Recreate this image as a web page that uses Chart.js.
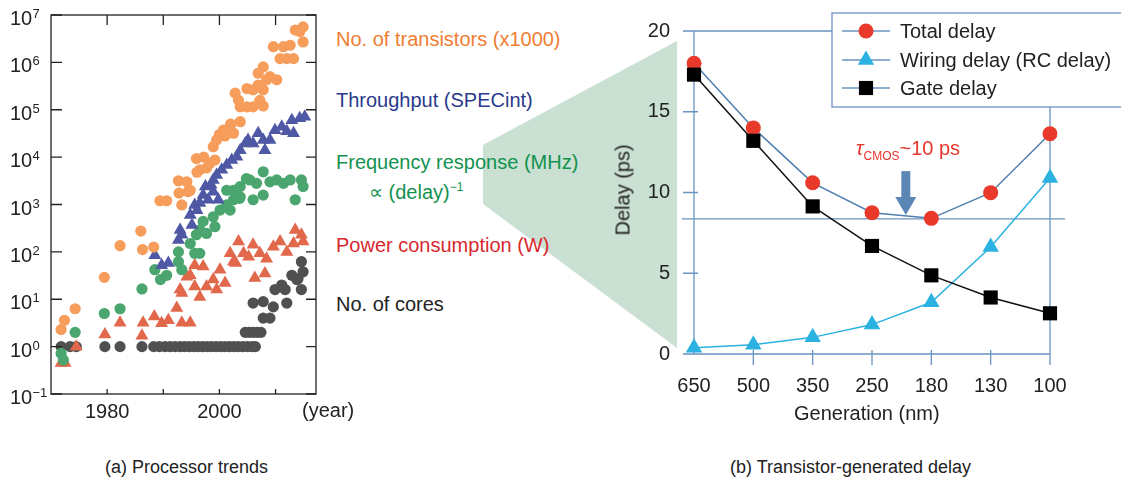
<!DOCTYPE html>
<html>
<head>
<meta charset="utf-8">
<script src="https://cdn.jsdelivr.net/npm/chart.js@4/dist/chart.umd.min.js"></script>
<style>
  body { margin: 0; background: #fff; width: 1121px; height: 484px; position: relative; overflow: hidden;
         font-family: "Liberation Sans", Arial, sans-serif; color: #222; }
  .t { position: absolute; white-space: nowrap; font-size: 20px; line-height: 20px; }
  .cap { position: absolute; white-space: nowrap; font-size: 18px; line-height: 18px; color: #222; }
  #wedge { position: absolute; left: 0; top: 0; width: 1121px; height: 484px; background: #cae0d2;
           clip-path: polygon(483px 145px, 677px 41px, 677px 348px, 483px 204px); }
  canvas { position: absolute; top: 0; }
  #trends { left: 0; }
  #delay { left: 600px; }
  .tau { color: #e8352b; }
  .tau sub { font-size: 12px; vertical-align: -5px; }
</style>
</head>
<body>
<div id="wedge"></div>
<canvas id="trends" width="330" height="430"></canvas>
<canvas id="delay" width="521" height="430"></canvas>

<div class="t" style="left:336px;top:29px;color:#f07d32">No. of transistors (x1000)</div>
<div class="t" style="left:336px;top:90px;color:#2a3a8c">Throughput (SPECint)</div>
<div class="t" style="left:336px;top:152px;color:#13924f">Frequency response (MHz)</div>
<div class="t" style="left:369px;top:177px;color:#13924f">&prop; (delay)<sup style="font-size:12px">&minus;1</sup></div>
<div class="t" style="left:336px;top:235px;color:#d8282f">Power consumption (W)</div>
<div class="t" style="left:336px;top:294px;color:#222">No. of cores</div>
<div class="t" style="left:302px;top:400px">(year)</div>

<div class="t tau" style="left:856px;top:138px"><i>&tau;</i><sub>CMOS</sub>~10 ps</div>
<div class="t" style="left:577px;top:180px;transform:rotate(-90deg);transform-origin:center;width:91px;text-align:center">Delay (ps)</div>
<div class="t" style="left:794px;top:403px">Generation (nm)</div>

<div class="cap" style="left:105px;top:458px">(a) Processor trends</div>
<div class="cap" style="left:730px;top:458px">(b) Transistor-generated delay</div>

<script>
'use strict';

// (a) processor trends, [year, value]
const transistors = [
  [1971.8, 2.3], [1972.4, 3.6], [1974.3, 6.3], [1979.5, 29], [1982.3, 135], [1986.0, 275], [1986.3, 112],
  [1988.3, 126], [1989.4, 1200], [1990.6, 1200], [1992.8, 1740], [1993.3, 980], [1994.4, 1860],
  [1992.7, 3160], [1994.2, 3020], [1994.8, 2000], [1996.0, 4800], [1996.5, 5400], [1995.9, 9300],
  [1997.2, 10000], [1997.7, 5900], [1998.3, 7400], [1999.2, 8700], [1998.9, 16600], [1999.5, 23000],
  [2000.0, 30000], [2000.7, 37000], [2001.0, 28000], [2001.9, 44000], [2002.0, 50000], [2002.5, 32000],
  [2003.7, 56000], [2002.8, 224000], [2003.4, 158000], [2003.7, 115000], [2004.9, 115000],
  [2006.0, 115000], [2007.8, 120000], [2004.9, 280000], [2006.0, 263000], [2006.9, 330000],
  [2007.8, 263000], [2007.2, 158000], [2006.9, 590000], [2007.8, 800000], [2009.0, 500000],
  [2010.2, 430000], [2008.4, 430000], [2009.6, 2140000], [2011.4, 2140000], [2012.6, 2300000],
  [2010.8, 1200000], [2012.0, 1200000], [2013.2, 1200000], [2013.5, 4800000], [2014.9, 5600000],
  [2014.9, 2700000], [2014.3, 4500000]
];
const throughput = [
  [1988.5, 85], [1989.7, 52], [1990.9, 58], [1992.7, 178], [1993.0, 290], [1993.3, 230], [1995.1, 370],
  [1994.8, 600], [1995.6, 980], [1996.0, 760], [1996.5, 1070], [1997.1, 1580], [1997.5, 2400],
  [1998.0, 1260], [1998.5, 2600], [1998.9, 1860], [1999.8, 1260], [1998.9, 3300], [1999.5, 4200],
  [2000.4, 5400], [2001.3, 6800], [2002.2, 8700], [2003.1, 10200], [2003.7, 14000], [2004.6, 19500],
  [2005.1, 23000], [2006.0, 19500], [2006.9, 32000], [2007.8, 23000], [2008.1, 14000], [2009.0, 23000],
  [2009.9, 37000], [2011.1, 44000], [2012.0, 35000], [2012.9, 60000], [2013.2, 32000], [2014.3, 66000],
  [2015.2, 71000]
];
const frequency = [
  [1971.8, 0.72], [1972.2, 0.52], [1974.3, 2.0], [1979.5, 5.0], [1982.3, 6.3], [1986.2, 16.5],
  [1988.5, 42], [1989.5, 26], [1990.6, 32], [1992.7, 62], [1993.3, 42], [1992.7, 100], [1994.8, 150],
  [1995.6, 93], [1996.5, 93], [1995.9, 230], [1996.5, 290], [1997.7, 245], [1997.1, 440], [1999.2, 340],
  [1998.9, 550], [2000.1, 760], [2001.3, 980], [2001.9, 760], [2002.5, 1260], [2003.7, 1450],
  [2006.0, 1260], [2007.8, 1580], [2013.5, 1260], [2003.6, 1350], [2002.5, 2000], [2001.3, 2000],
  [2003.7, 2400], [2004.8, 3500], [2005.4, 3300], [2006.6, 2800], [2007.8, 4900], [2009.0, 3000],
  [2010.2, 3300], [2011.4, 2800], [2012.6, 3300], [2014.6, 3300], [2014.9, 2400]
];
const power = [
  [1971.8, 0.45], [1972.5, 0.45], [1974.5, 1.0], [1979.6, 1.8], [1982.3, 3.2], [1986.2, 1.7],
  [1986.4, 3.2], [1988.4, 4.3], [1989.7, 3.1], [1990.9, 3.6], [1992.4, 6.5], [1993.3, 3.2], [1994.8, 3.2],
  [1993.0, 16], [1993.3, 13.5], [1994.2, 30], [1994.8, 32], [1995.6, 18.6], [1996.5, 11.2], [1997.1, 49],
  [1995.6, 52], [1997.7, 18.6], [1998.9, 26], [1999.5, 16], [2000.1, 42], [2001.0, 22], [2001.9, 93],
  [2002.5, 62], [2002.9, 58], [2003.4, 166], [2004.3, 93], [2005.2, 79], [2006.0, 141], [2007.2, 93],
  [2008.4, 72], [2008.1, 35], [2006.3, 28], [2009.6, 129], [2010.8, 166], [2012.0, 100], [2013.2, 151],
  [2013.5, 290], [2014.6, 229], [2014.9, 166]
];
const cores = [
  [1971.8, 1], [1973.4, 1], [1974.5, 1], [1979.6, 1], [1982.3, 1], [1986.2, 1], [1988.3, 1], [1989.3, 1],
  [1990.3, 1], [1991.2, 1], [1992.1, 1], [1993.0, 1], [1993.8, 1], [1994.6, 1], [1995.4, 1], [1996.2, 1],
  [1997.0, 1], [1997.8, 1], [1998.6, 1], [1999.4, 1], [2000.2, 1], [2001.0, 1], [2001.8, 1], [2002.6, 1],
  [2003.4, 1], [2004.2, 1], [2005.0, 1], [2005.8, 1], [2006.4, 1],
  [2004.6, 2], [2005.3, 2], [2006.0, 2], [2006.7, 2], [2007.4, 2],
  [2007.8, 4], [2009.0, 4], [2006.0, 8.3], [2007.8, 8.9], [2009.6, 6.9], [2009.9, 16], [2011.1, 20],
  [2011.7, 16], [2012.0, 8.3], [2012.9, 32], [2013.8, 26], [2014.0, 27], [2014.6, 62], [2014.9, 38],
  [2014.6, 16]
];
const decadeTicks = [0.1, 1, 10, 1e2, 1e3, 1e4, 1e5, 1e6, 1e7];
const yearTicks = [1980, 1990, 2000, 2010];
const yearLabels = [1980, 2000];

// (b) delay per generation
const generations = ['650', '500', '350', '250', '180', '130', '100'];
const totalDelay = [18.0, 14.0, 10.6, 8.75, 8.4, 9.99, 13.64];
const wiringDelay = [0.38, 0.58, 1.03, 1.82, 3.2, 6.63, 10.9];
const gateDelay = [17.3, 13.2, 9.14, 6.69, 4.87, 3.5, 2.52];
const delayTicks = [0, 5, 10, 15, 20];
const tauLevel = 8.37;

const FONT = '"Liberation Sans", Arial, sans-serif';
const AXIS = '#6a94c2';

function scatterSet(data, color, style, r) {
  return {
    data: data.map(p => ({ x: p[0], y: p[1] })),
    backgroundColor: color, borderWidth: 0,
    pointStyle: style, pointRadius: r, pointHoverRadius: r
  };
}

// box with inward ticks and "10^n" labels
const frameA = {
  id: 'frameA',
  afterDraw(chart) {
    const { ctx, chartArea: a, scales: { x, y } } = chart;
    ctx.save();
    ctx.strokeStyle = '#222';
    ctx.lineWidth = 1.3;
    ctx.strokeRect(a.left, a.top, a.right - a.left, a.bottom - a.top);
    ctx.beginPath();
    decadeTicks.forEach(v => {
      const py = y.getPixelForValue(v);
      ctx.moveTo(a.left, py); ctx.lineTo(a.left + 11, py);
      ctx.moveTo(a.right, py); ctx.lineTo(a.right - 10, py);
    });
    yearTicks.forEach(v => {
      const px = x.getPixelForValue(v);
      ctx.moveTo(px, a.top); ctx.lineTo(px, a.top + 10);
      ctx.moveTo(px, a.bottom); ctx.lineTo(px, a.bottom - 5);
    });
    ctx.stroke();
    ctx.fillStyle = '#222';
    ctx.textAlign = 'left';
    ctx.textBaseline = 'alphabetic';
    decadeTicks.forEach(v => {
      const py = y.getPixelForValue(v);
      const e = Math.round(Math.log10(v));
      ctx.font = '20px ' + FONT;
      ctx.fillText('10', 10, py + 10);
      ctx.font = '13px ' + FONT;
      ctx.fillText(e < 0 ? '\u2212' + (-e) : String(e), 32.5, py + 3);
    });
    ctx.restore();
  }
};

new Chart(document.getElementById('trends').getContext('2d'), {
  type: 'scatter',
  data: {
    datasets: [
      scatterSet(transistors, '#f79d5c', 'circle', 5.6),
      scatterSet(throughput, '#4e58a4', 'triangle', 7.5),
      scatterSet(frequency, '#4aa56e', 'circle', 5.6),
      scatterSet(power, '#e1684b', 'triangle', 7.5),
      scatterSet(cores, '#505050', 'circle', 5.6)
    ]
  },
  options: {
    responsive: false, animation: false,
    layout: { padding: { top: 15, right: 14, left: 0, bottom: 0 } },
    plugins: { legend: { display: false }, tooltip: { enabled: false } },
    scales: {
      x: {
        type: 'linear', min: 1970, max: 2017.2,
        grid: { display: false, drawTicks: false }, border: { display: false },
        afterBuildTicks: s => { s.ticks = yearTicks.map(v => ({ value: v })); },
        afterFit: s => { s.height = 36; },
        ticks: { color: '#222', font: { family: FONT, size: 20 }, padding: 6, maxRotation: 0,
                 callback: v => yearLabels.includes(v) ? String(v) : '' }
      },
      y: {
        type: 'logarithmic', min: 0.1, max: 1e7,
        grid: { display: false, drawTicks: false }, border: { display: false },
        afterBuildTicks: s => { s.ticks = decadeTicks.map(v => ({ value: v })); },
        afterFit: s => { s.width = 51; },
        ticks: { callback: () => '' }
      }
    }
  },
  plugins: [frameA]
});

// marker shapes shared by the legend
function marker(ctx, style, r, x, y) {
  ctx.beginPath();
  if (style === 'circle') {
    ctx.arc(x, y, r, 0, Math.PI * 2);
  } else if (style === 'triangle') {
    for (let i = 0; i < 3; i++) {
      const ang = i * 2 * Math.PI / 3;
      const px = x + Math.sin(ang) * r, py = y - Math.cos(ang) * r;
      i ? ctx.lineTo(px, py) : ctx.moveTo(px, py);
    }
    ctx.closePath();
  } else {
    const s = r * Math.SQRT1_2;
    ctx.rect(x - s, y - s, 2 * s, 2 * s);
  }
  ctx.fill();
}

// frame, tau level line, arrow
const frameB = {
  id: 'frameB',
  beforeDatasetsDraw(chart) {
    const { ctx, chartArea: a, scales: { x, y } } = chart;
    const legendLeft = 232, legendBottom = 107;
    ctx.save();
    ctx.strokeStyle = AXIS;
    ctx.lineWidth = 1.3;
    ctx.beginPath();
    ctx.moveTo(a.left, a.top); ctx.lineTo(a.left, a.bottom); ctx.lineTo(a.right, a.bottom);
    ctx.lineTo(a.right, legendBottom);
    ctx.moveTo(a.left - 11, a.top); ctx.lineTo(legendLeft, a.top);
    delayTicks.forEach(v => {
      const py = y.getPixelForValue(v);
      ctx.moveTo(a.left - 11, py); ctx.lineTo(a.left + 4, py);
    });
    generations.forEach((g, i) => {
      if (i === 0) return;
      const px = x.getPixelForValue(i);
      ctx.moveTo(px, a.bottom - 4); ctx.lineTo(px, a.bottom + 11);
    });
    const ty = y.getPixelForValue(tauLevel);
    ctx.moveTo(a.left - 12, ty); ctx.lineTo(a.right + 15, ty);
    ctx.stroke();

    // arrow pointing at the minimum of the total delay
    const ax = x.getPixelForValue(3.57);
    const tip = y.getPixelForValue(8.6);
    ctx.fillStyle = '#5a87b5';
    ctx.fillRect(ax - 4.5, tip - 44, 9, 27);
    ctx.beginPath();
    ctx.moveTo(ax - 10.5, tip - 18); ctx.lineTo(ax + 10.5, tip - 18); ctx.lineTo(ax, tip);
    ctx.closePath();
    ctx.fill();
    ctx.restore();
  },
  afterDraw(chart) {
    const { ctx } = chart;
    ctx.save();
    ctx.strokeStyle = AXIS;
    ctx.lineWidth = 1.3;
    ctx.fillStyle = '#fff';
    ctx.fillRect(232, 13, 300, 94);
    ctx.strokeRect(232, 13, 300, 94);
    const rows = [31, 60, 88];
    [0, 1, 2].forEach(i => {
      const ds = chart.data.datasets[i];
      const ry = rows[i];
      ctx.strokeStyle = AXIS;
      ctx.beginPath(); ctx.moveTo(242, ry); ctx.lineTo(290, ry); ctx.stroke();
      ctx.fillStyle = ds.pointBackgroundColor;
      marker(ctx, ds.pointStyle, ds.pointRadius, 266, ry);
      ctx.fillStyle = '#222';
      ctx.font = '20px ' + FONT;
      ctx.textBaseline = 'middle';
      ctx.fillText(ds.label, 300, ry + 1);
    });
    ctx.restore();
  }
};

new Chart(document.getElementById('delay').getContext('2d'), {
  type: 'line',
  data: {
    labels: generations,
    datasets: [
      { label: 'Total delay', data: totalDelay, order: 1, borderColor: '#4f7fae', borderWidth: 1.5,
        pointStyle: 'circle', pointRadius: 7.5, pointBackgroundColor: '#e8392a', pointBorderWidth: 0 },
      { label: 'Wiring delay (RC delay)', data: wiringDelay, order: 2, borderColor: '#2cb2e0', borderWidth: 1.5,
        pointStyle: 'triangle', pointRadius: 9.5, pointBackgroundColor: '#2cb2e0', pointBorderWidth: 0 },
      { label: 'Gate delay', data: gateDelay, order: 0, borderColor: '#111', borderWidth: 1.5,
        pointStyle: 'rect', pointRadius: 10, pointBackgroundColor: '#000', pointBorderWidth: 0 }
    ]
  },
  options: {
    responsive: false, animation: false,
    layout: { padding: { top: 31, right: 71, left: 0, bottom: 0 } },
    plugins: { legend: { display: false }, tooltip: { enabled: false } },
    scales: {
      x: {
        offset: false,
        grid: { display: false, drawTicks: false }, border: { display: false },
        afterFit: s => { s.height = 76; s.paddingLeft = 0; s.paddingRight = 0; },
        ticks: { color: '#222', font: { family: FONT, size: 20 }, padding: 20, maxRotation: 0 }
      },
      y: {
        min: 0, max: 20,
        grid: { display: false, drawTicks: false }, border: { display: false },
        afterBuildTicks: s => { s.ticks = delayTicks.map(v => ({ value: v })); },
        afterFit: s => { s.width = 94; s.paddingTop = 0; s.paddingBottom = 0; },
        ticks: { color: '#222', font: { family: FONT, size: 20 }, padding: 24 }
      }
    }
  },
  plugins: [frameB]
});
</script>
</body>
</html>
